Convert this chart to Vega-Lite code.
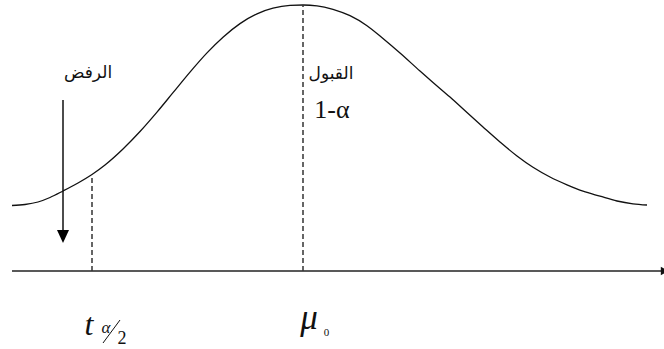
{
  "$schema": "https://vega.github.io/schema/vega-lite/v6.json",
  "width": 664,
  "height": 349,
  "autosize": "none",
  "padding": 0,
  "background": "white",
  "config": {"view": {"stroke": null}},
  "layer": [
    {
      "data": {"values": [
        {"x": -2.91, "y": 0.655}, {"x": -2.78, "y": 0.665}, {"x": -2.65, "y": 0.69}, {"x": -2.53, "y": 0.735},
        {"x": -2.40, "y": 0.80}, {"x": -2.25, "y": 0.88}, {"x": -2.11, "y": 0.965}, {"x": -1.98, "y": 1.06},
        {"x": -1.80, "y": 1.22}, {"x": -1.63, "y": 1.395}, {"x": -1.46, "y": 1.589}, {"x": -1.30, "y": 1.783},
        {"x": -1.13, "y": 1.989}, {"x": -0.96, "y": 2.181}, {"x": -0.80, "y": 2.338}, {"x": -0.63, "y": 2.474},
        {"x": -0.46, "y": 2.572}, {"x": -0.30, "y": 2.628}, {"x": -0.13, "y": 2.656}, {"x": 0.0, "y": 2.66},
        {"x": 0.14, "y": 2.652}, {"x": 0.30, "y": 2.617}, {"x": 0.47, "y": 2.553}, {"x": 0.64, "y": 2.453},
        {"x": 0.80, "y": 2.325}, {"x": 0.97, "y": 2.18}, {"x": 1.17, "y": 2.0}, {"x": 1.30, "y": 1.886},
        {"x": 1.47, "y": 1.739}, {"x": 1.64, "y": 1.584}, {"x": 1.80, "y": 1.44}, {"x": 1.97, "y": 1.29},
        {"x": 2.14, "y": 1.15}, {"x": 2.30, "y": 1.037}, {"x": 2.47, "y": 0.94}, {"x": 2.64, "y": 0.862},
        {"x": 2.80, "y": 0.798}, {"x": 2.97, "y": 0.748}, {"x": 3.14, "y": 0.70}, {"x": 3.30, "y": 0.672},
        {"x": 3.44, "y": 0.66}
      ]},
      "mark": {"type": "line", "interpolate": "monotone", "color": "#111111", "strokeWidth": 1.3},
      "encoding": {
        "x": {"field": "x", "type": "quantitative", "axis": null, "scale": {"domain": [-3.03, 3.61], "nice": false, "zero": false}},
        "y": {"field": "y", "type": "quantitative", "axis": null, "scale": {"domain": [-0.78, 2.71], "nice": false, "zero": false}}
      }
    },
    {
      "data": {"values": [{"x": -2.91, "x2": 3.62, "y": 0}]},
      "mark": {"type": "rule", "color": "#222222", "strokeWidth": 1.6},
      "encoding": {
        "x": {"field": "x", "type": "quantitative"},
        "x2": {"field": "x2"},
        "y": {"field": "y", "type": "quantitative"}
      }
    },
    {
      "data": {"values": [{"x": 3.62, "y": 0}]},
      "mark": {"type": "point", "shape": "M-1,-1L1,0L-1,1Z", "filled": true, "color": "#111111", "size": 70, "opacity": 1},
      "encoding": {
        "x": {"field": "x", "type": "quantitative"},
        "y": {"field": "y", "type": "quantitative"}
      }
    },
    {
      "data": {"values": [{"x": -2.11, "y": 0, "y2": 0.965}, {"x": 0.0, "y": 0, "y2": 2.66}]},
      "mark": {"type": "rule", "color": "#333333", "strokeWidth": 1.5, "strokeDash": [5, 3]},
      "encoding": {
        "x": {"field": "x", "type": "quantitative"},
        "y": {"field": "y", "type": "quantitative"},
        "y2": {"field": "y2"}
      }
    },
    {
      "data": {"values": [{"x": -2.40, "y": 1.71, "y2": 0.40}]},
      "mark": {"type": "rule", "color": "#111111", "strokeWidth": 1.5},
      "encoding": {
        "x": {"field": "x", "type": "quantitative"},
        "y": {"field": "y", "type": "quantitative"},
        "y2": {"field": "y2"}
      }
    },
    {
      "data": {"values": [{"x": -2.40, "y": 0.345}]},
      "mark": {"type": "point", "shape": "M-1,-1.1L1,-1.1L0,1.1Z", "filled": true, "color": "#000000", "size": 144, "opacity": 1},
      "encoding": {
        "x": {"field": "x", "type": "quantitative"},
        "y": {"field": "y", "type": "quantitative"}
      }
    },
    {
      "data": {"values": [{"x": -2.15, "y": 1.98, "label": "الرفض"}, {"x": 0.28, "y": 1.97, "label": "القبول"}]},
      "mark": {"type": "text", "font": "DejaVu Sans", "fontSize": 17, "color": "#111111", "align": "center", "baseline": "middle"},
      "encoding": {
        "x": {"field": "x", "type": "quantitative"},
        "y": {"field": "y", "type": "quantitative"},
        "text": {"field": "label"}
      }
    },
    {
      "data": {"values": [{"x": 0.29, "y": 1.61, "label": "1-α"}]},
      "mark": {"type": "text", "font": "Liberation Serif, DejaVu Serif, serif", "fontSize": 26, "color": "#111111", "align": "center", "baseline": "middle"},
      "encoding": {
        "x": {"field": "x", "type": "quantitative"},
        "y": {"field": "y", "type": "quantitative"},
        "text": {"field": "label"}
      }
    },
    {
      "data": {"values": [{"x": -2.14, "y": -0.64, "label": "t"}]},
      "mark": {"type": "text", "font": "Liberation Serif, DejaVu Serif, serif", "fontSize": 32, "fontStyle": "italic", "color": "#111111", "align": "center", "baseline": "alphabetic"},
      "encoding": {
        "x": {"field": "x", "type": "quantitative"},
        "y": {"field": "y", "type": "quantitative"},
        "text": {"field": "label"}
      }
    },
    {
      "data": {"values": [{"x": 0.06, "y": -0.58, "label": "μ"}]},
      "mark": {"type": "text", "font": "Liberation Serif, DejaVu Serif, serif", "fontSize": 35, "fontStyle": "italic", "color": "#111111", "align": "center", "baseline": "alphabetic"},
      "encoding": {
        "x": {"field": "x", "type": "quantitative"},
        "y": {"field": "y", "type": "quantitative"},
        "text": {"field": "label"}
      }
    },
    {
      "data": {"values": [{"x": -1.97, "y": -0.62, "label": "α"}]},
      "mark": {"type": "text", "font": "Liberation Serif, DejaVu Serif, serif", "fontSize": 17, "fontStyle": "italic", "color": "#111111", "align": "center", "baseline": "alphabetic"},
      "encoding": {
        "x": {"field": "x", "type": "quantitative"},
        "y": {"field": "y", "type": "quantitative"},
        "text": {"field": "label"}
      }
    },
    {
      "data": {"values": [{"x": -1.81, "y": -0.73, "label": "2"}]},
      "mark": {"type": "text", "font": "Liberation Serif, DejaVu Serif, serif", "fontSize": 18, "color": "#111111", "align": "center", "baseline": "alphabetic"},
      "encoding": {
        "x": {"field": "x", "type": "quantitative"},
        "y": {"field": "y", "type": "quantitative"},
        "text": {"field": "label"}
      }
    },
    {
      "data": {"values": [{"x": 0.235, "y": -0.65, "label": "0"}]},
      "mark": {"type": "text", "font": "Liberation Serif, DejaVu Serif, serif", "fontSize": 11, "color": "#111111", "align": "center", "baseline": "alphabetic"},
      "encoding": {
        "x": {"field": "x", "type": "quantitative"},
        "y": {"field": "y", "type": "quantitative"},
        "text": {"field": "label"}
      }
    },
    {
      "data": {"values": [{"x": -2.00, "y": -0.72, "x2": -1.83, "y2": -0.49}]},
      "mark": {"type": "rule", "color": "#111111", "strokeWidth": 1},
      "encoding": {
        "x": {"field": "x", "type": "quantitative"},
        "y": {"field": "y", "type": "quantitative"},
        "x2": {"field": "x2"},
        "y2": {"field": "y2"}
      }
    }
  ]
}
